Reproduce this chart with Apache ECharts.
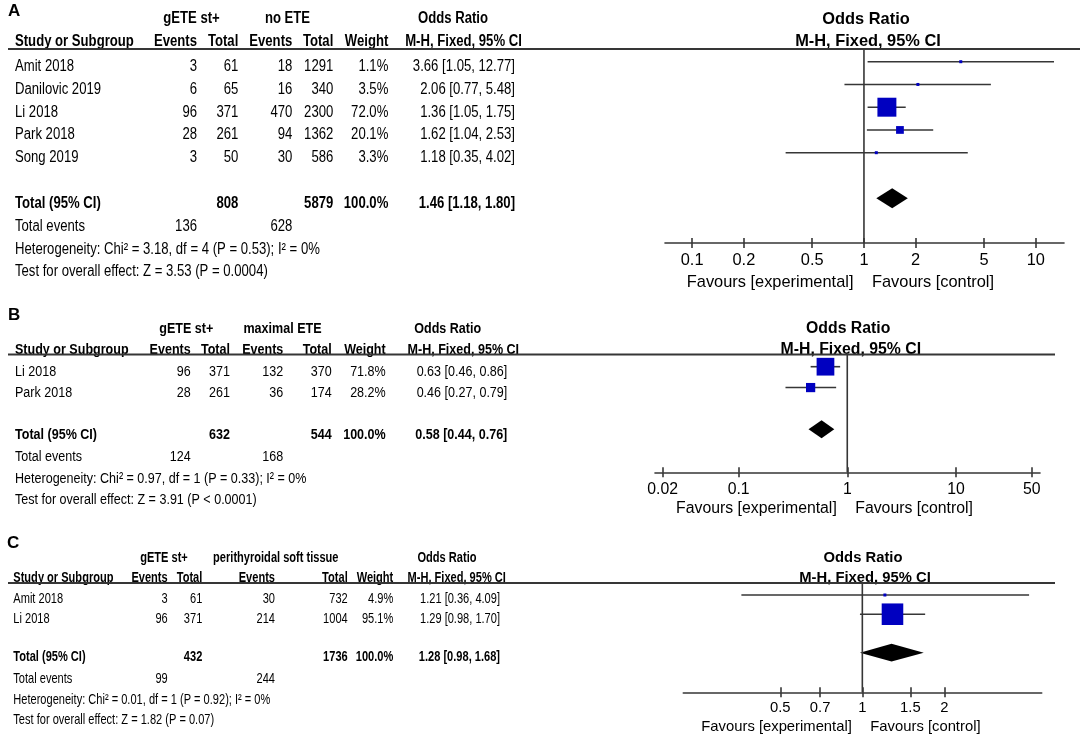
<!DOCTYPE html>
<html>
<head>
<meta charset="utf-8">
<script src="https://cdn.jsdelivr.net/npm/echarts@6/dist/echarts.min.js"></script>
<style>
html, body { margin: 0; padding: 0; background: #fff; }
#chart { width: 1084px; height: 738px; }
</style>
</head>
<body>
<div id="chart"></div>
<script>
// ---- data: panel A (gETE st+ vs no ETE)
var studiesA = ['Amit 2018', 'Danilovic 2019', 'Li 2018', 'Park 2018', 'Song 2019'];
var expEventsA = [3, 6, 96, 28, 3];
var expTotalA = [61, 65, 371, 261, 50];
var ctlEventsA = [18, 16, 470, 94, 30];
var ctlTotalA = [1291, 340, 2300, 1362, 586];
var weightA = [1.1, 3.5, 72.0, 20.1, 3.3];
var orA = [3.66, 2.06, 1.36, 1.62, 1.18];
var loA = [1.05, 0.77, 1.05, 1.04, 0.35];
var hiA = [12.77, 5.48, 1.75, 2.53, 4.02];
var totalsA = [808, 5879];
var pooledA = [1.46, 1.18, 1.80];
var eventsA = [136, 628];
var groupsA = ['gETE st+', 'no ETE'];
var statsA = ['Heterogeneity: Chi² = 3.18, df = 4 (P = 0.53); I² = 0%', 'Test for overall effect: Z = 3.53 (P = 0.0004)'];
var ticksA = [0.1, 0.2, 0.5, 1, 2, 5, 10];

// ---- data: panel B (gETE st+ vs maximal ETE)
var studiesB = ['Li 2018', 'Park 2018'];
var expEventsB = [96, 28];
var expTotalB = [371, 261];
var ctlEventsB = [132, 36];
var ctlTotalB = [370, 174];
var weightB = [71.8, 28.2];
var orB = [0.63, 0.46];
var loB = [0.46, 0.27];
var hiB = [0.86, 0.79];
var totalsB = [632, 544];
var pooledB = [0.58, 0.44, 0.76];
var eventsB = [124, 168];
var groupsB = ['gETE st+', 'maximal ETE'];
var statsB = ['Heterogeneity: Chi² = 0.97, df = 1 (P = 0.33); I² = 0%', 'Test for overall effect: Z = 3.91 (P < 0.0001)'];
var ticksB = [0.02, 0.1, 1, 10, 50];

// ---- data: panel C (gETE st+ vs perithyroidal soft tissue)
var studiesC = ['Amit 2018', 'Li 2018'];
var expEventsC = [3, 96];
var expTotalC = [61, 371];
var ctlEventsC = [30, 214];
var ctlTotalC = [732, 1004];
var weightC = [4.9, 95.1];
var orC = [1.21, 1.29];
var loC = [0.36, 0.98];
var hiC = [4.09, 1.70];
var totalsC = [432, 1736];
var pooledC = [1.28, 0.98, 1.68];
var eventsC = [99, 244];
var groupsC = ['gETE st+', 'perithyroidal soft tissue'];
var statsC = ['Heterogeneity: Chi² = 0.01, df = 1 (P = 0.92); I² = 0%', 'Test for overall effect: Z = 1.82 (P = 0.07)'];
var ticksC = [0.5, 0.7, 1, 1.5, 2];

var FONT = '"Liberation Sans", Arial, sans-serif';
var INK = '#363636';

// layout of each panel (pixels)
var layoutA = {x0: 665, x1: 1064, y0: 49, y1: 243, xmin: 0.0695, xmax: 14.6, row0: 61.7, step: 22.75,
  fs: 16, sx: 0.82, pfs: 16.4, k: 0.95, dia: 20, label: [8, 11], hY: [19, 41.7], lineEnd: 1080, textDy: 5,
  teY: 226.7, hetY: 249.3, testY: 271.7, favY: 282.3, pOr: 866, pMh: 868, margin: 9,
  col: {study: 15, ev1: 197, tot1: 238.3, ev2: 292.3, tot2: 333.3, wt: 388.3, ci: 515, g1: 191.5, g2: 287.5, or: 453, mh: 463.5}};
var layoutB = {x0: 655, x1: 1040, y0: 354.5, y1: 472.3, xmin: 0.017, xmax: 59.4, row0: 366.7, step: 20.87,
  fs: 15.3, sx: 0.82, pfs: 15.8, k: 0.89, dia: 18, label: [8, 315], hY: [328.3, 349.3], lineEnd: 1055, textDy: 5,
  teY: 456.7, hetY: 478.3, testY: 500, favY: 508.3, pOr: 848.2, pMh: 850.8, margin: 9,
  col: {study: 15, ev1: 190.7, tot1: 230, ev2: 283.3, tot2: 331.7, wt: 385.7, ci: 507.3, g1: 186.3, g2: 282.5, or: 447.7, mh: 463.3}};
var layoutC = {x0: 683.3, x1: 1041.7, y0: 583, y1: 692.3, xmin: 0.2204, xmax: 4.55, row0: 595, step: 19.23,
  fs: 14.6, sx: 0.758, pfs: 14.8, k: 0.89, dia: 17.7, label: [7, 543], hY: [557.7, 577.7], lineEnd: 1055, textDy: 4.3,
  teY: 679, hetY: 700, testY: 720, favY: 726.7, pOr: 863, pMh: 865, margin: 8.6,
  col: {study: 13.3, ev1: 167.7, tot1: 202.3, ev2: 275, tot2: 347.7, wt: 393.3, ci: 500, g1: 164, g2: 275.8, or: 447, mh: 456.7}};

var panels = [
  {name: 'A', studies: studiesA, e1: expEventsA, t1: expTotalA, e2: ctlEventsA, t2: ctlTotalA, w: weightA, or: orA, lo: loA, hi: hiA,
   tot: totalsA, pooled: pooledA, ev: eventsA, groups: groupsA, stats: statsA, ticks: ticksA, L: layoutA},
  {name: 'B', studies: studiesB, e1: expEventsB, t1: expTotalB, e2: ctlEventsB, t2: ctlTotalB, w: weightB, or: orB, lo: loB, hi: hiB,
   tot: totalsB, pooled: pooledB, ev: eventsB, groups: groupsB, stats: statsB, ticks: ticksB, L: layoutB},
  {name: 'C', studies: studiesC, e1: expEventsC, t1: expTotalC, e2: ctlEventsC, t2: ctlTotalC, w: weightC, or: orC, lo: loC, hi: hiC,
   tot: totalsC, pooled: pooledC, ev: eventsC, groups: groupsC, stats: statsC, ticks: ticksC, L: layoutC}
];

function ciText(o, l, h) {
  return o.toFixed(2) + ' [' + l.toFixed(2) + ', ' + h.toFixed(2) + ']';
}
function tickFmt(v) {
  return String(+(+v).toPrecision(3));
}

var grids = [], xAxes = [], yAxes = [], series = [];
var n = panels.length;
panels.forEach(function (p, i) {
  var L = p.L;
  var yMin = -(L.row0 - L.y0) / L.step;
  var yMax = yMin + (L.y1 - L.y0) / L.step;
  var box = {left: L.x0, top: L.y0, width: L.x1 - L.x0, height: L.y1 - L.y0, show: false};
  grids[i] = box;
  grids[n + i] = box; // twin grid: ticks that cross the axis line upwards
  xAxes[i] = {
    type: 'log', logBase: 10, gridIndex: i, min: L.xmin, max: L.xmax, position: 'bottom',
    axisLine: {show: true, onZero: false, lineStyle: {color: INK, width: 1.6}},
    axisTick: {show: true, customValues: p.ticks, length: 5, lineStyle: {color: INK, width: 1.6}},
    axisLabel: {customValues: p.ticks, formatter: tickFmt, margin: L.margin, color: '#000',
      fontSize: L.pfs, fontFamily: FONT},
    splitLine: {show: false}
  };
  xAxes[n + i] = {
    type: 'log', logBase: 10, gridIndex: n + i, min: L.xmin, max: L.xmax, position: 'bottom',
    axisLine: {show: false, onZero: false},
    axisTick: {show: true, inside: true, customValues: p.ticks, length: 5, lineStyle: {color: INK, width: 1.6}},
    axisLabel: {show: false},
    splitLine: {show: false}
  };
  yAxes[i] = {type: 'value', gridIndex: i, inverse: true, min: yMin, max: yMax, show: false};
  yAxes[n + i] = {type: 'value', gridIndex: n + i, inverse: true, min: yMin, max: yMax, show: false};

  var rows = p.studies.map(function (s, j) {
    return [j, p.or[j], p.lo[j], p.hi[j], p.w[j]];
  });
  series.push({
    type: 'custom', xAxisIndex: i, yAxisIndex: i, clip: false, silent: true,
    data: rows,
    encode: {x: [1, 2, 3], y: 0},
    renderItem: function (params, api) {
      var y = api.value(0);
      var a = api.coord([api.value(2), y]);
      var b = api.coord([api.value(3), y]);
      var m = api.coord([api.value(1), y]);
      var s = Math.max(3, L.k * Math.pow(api.value(4), 0.7));
      return {
        type: 'group',
        children: [
          {type: 'line', shape: {x1: a[0], y1: a[1], x2: b[0], y2: b[1]}, style: {stroke: INK, lineWidth: 1.6}},
          {type: 'rect', shape: {x: m[0] - s / 2, y: m[1] - s / 2, width: s, height: s}, style: {fill: '#0000c0'}}
        ]
      };
    }
  });
  series.push({
    type: 'custom', xAxisIndex: i, yAxisIndex: i, clip: false, silent: true,
    data: [[p.studies.length + 1, p.pooled[0], p.pooled[1], p.pooled[2]]],
    encode: {x: [1, 2, 3], y: 0},
    renderItem: function (params, api) {
      var y = api.value(0);
      var a = api.coord([api.value(2), y]);
      var b = api.coord([api.value(3), y]);
      var m = api.coord([api.value(1), y]);
      var h = L.dia / 2;
      return {
        type: 'polygon',
        shape: {points: [[a[0], a[1]], [m[0], m[1] - h], [b[0], b[1]], [m[0], m[1] + h]]},
        style: {fill: '#000'}
      };
    }
  });
  series.push({
    type: 'line', xAxisIndex: i, yAxisIndex: i, silent: true, symbol: 'none',
    data: [[1, yMin], [1, yMax]],
    lineStyle: {color: INK, width: 1.6}
  });
});

var chart = echarts.init(document.getElementById('chart'));
chart.setOption({
  animation: false,
  backgroundColor: '#fff',
  grid: grids,
  xAxis: xAxes,
  yAxis: yAxes,
  series: series
});

// table text, headers and favours labels, placed on the rows of each panel's axis
function txt(x, y, s, size, sx, o) {
  o = o || {};
  return {
    type: 'text', x: x, y: y, scaleX: sx, silent: true,
    style: {
      text: String(s), fill: '#000',
      font: (o.bold ? 'bold ' : '') + size + 'px ' + FONT,
      textAlign: o.align || 'left', textVerticalAlign: 'middle'
    }
  };
}

var els = [];
panels.forEach(function (p, i) {
  var L = p.L, c = L.col, fs = L.fs, sx = L.sx;
  var finder = {xAxisIndex: i, yAxisIndex: i};
  var rowY = function (r) { return chart.convertToPixel(finder, [1, r])[1] + L.textDy; };
  var x1 = chart.convertToPixel(finder, [1, 0])[0];
  var B = {bold: true};
  var BR = {bold: true, align: 'right'};
  var BC = {bold: true, align: 'center'};
  var R = {align: 'right'};

  els.push(txt(L.label[0], L.label[1], p.name, 17, 1, B));
  els.push(txt(c.g1, L.hY[0], p.groups[0], fs, sx, BC));
  els.push(txt(c.g2, L.hY[0], p.groups[1], fs, sx, BC));
  els.push(txt(c.or, L.hY[0], 'Odds Ratio', fs, sx, BC));
  els.push(txt(c.study, L.hY[1], 'Study or Subgroup', fs, sx, B));
  els.push(txt(c.ev1, L.hY[1], 'Events', fs, sx, BR));
  els.push(txt(c.tot1, L.hY[1], 'Total', fs, sx, BR));
  els.push(txt(c.ev2, L.hY[1], 'Events', fs, sx, BR));
  els.push(txt(c.tot2, L.hY[1], 'Total', fs, sx, BR));
  els.push(txt(c.wt, L.hY[1], 'Weight', fs, sx, BR));
  els.push(txt(c.mh, L.hY[1], 'M-H, Fixed, 95% CI', fs, sx, BC));
  els.push(txt(L.pOr, L.hY[0], 'Odds Ratio', L.pfs, 1, BC));
  els.push(txt(L.pMh, L.hY[1], 'M-H, Fixed, 95% CI', L.pfs, 1, BC));
  els.push({type: 'line', silent: true, shape: {x1: 8, y1: L.y0, x2: L.lineEnd, y2: L.y0},
    style: {stroke: INK, lineWidth: 2}});

  p.studies.forEach(function (s, j) {
    var y = rowY(j);
    els.push(txt(c.study, y, s, fs, sx));
    els.push(txt(c.ev1, y, p.e1[j], fs, sx, R));
    els.push(txt(c.tot1, y, p.t1[j], fs, sx, R));
    els.push(txt(c.ev2, y, p.e2[j], fs, sx, R));
    els.push(txt(c.tot2, y, p.t2[j], fs, sx, R));
    els.push(txt(c.wt, y, p.w[j].toFixed(1) + '%', fs, sx, R));
    els.push(txt(c.ci, y, ciText(p.or[j], p.lo[j], p.hi[j]), fs, sx, R));
  });
  var wsum = p.w.reduce(function (a, b) { return a + b; }, 0);
  var ty = rowY(p.studies.length + 1);
  els.push(txt(c.study, ty, 'Total (95% CI)', fs, sx, B));
  els.push(txt(c.tot1, ty, p.tot[0], fs, sx, BR));
  els.push(txt(c.tot2, ty, p.tot[1], fs, sx, BR));
  els.push(txt(c.wt, ty, wsum.toFixed(1) + '%', fs, sx, BR));
  els.push(txt(c.ci, ty, ciText(p.pooled[0], p.pooled[1], p.pooled[2]), fs, sx, BR));

  els.push(txt(c.study, L.teY, 'Total events', fs, sx));
  els.push(txt(c.ev1, L.teY, p.ev[0], fs, sx, R));
  els.push(txt(c.ev2, L.teY, p.ev[1], fs, sx, R));
  els.push(txt(c.study, L.hetY, p.stats[0], fs, sx));
  els.push(txt(c.study, L.testY, p.stats[1], fs, sx));

  els.push(txt(x1 - 10.5, L.favY, 'Favours [experimental]', L.pfs, 1, R));
  els.push(txt(x1 + 8, L.favY, 'Favours [control]', L.pfs, 1));
});
chart.setOption({graphic: {elements: els}});
</script>
</body>
</html>
